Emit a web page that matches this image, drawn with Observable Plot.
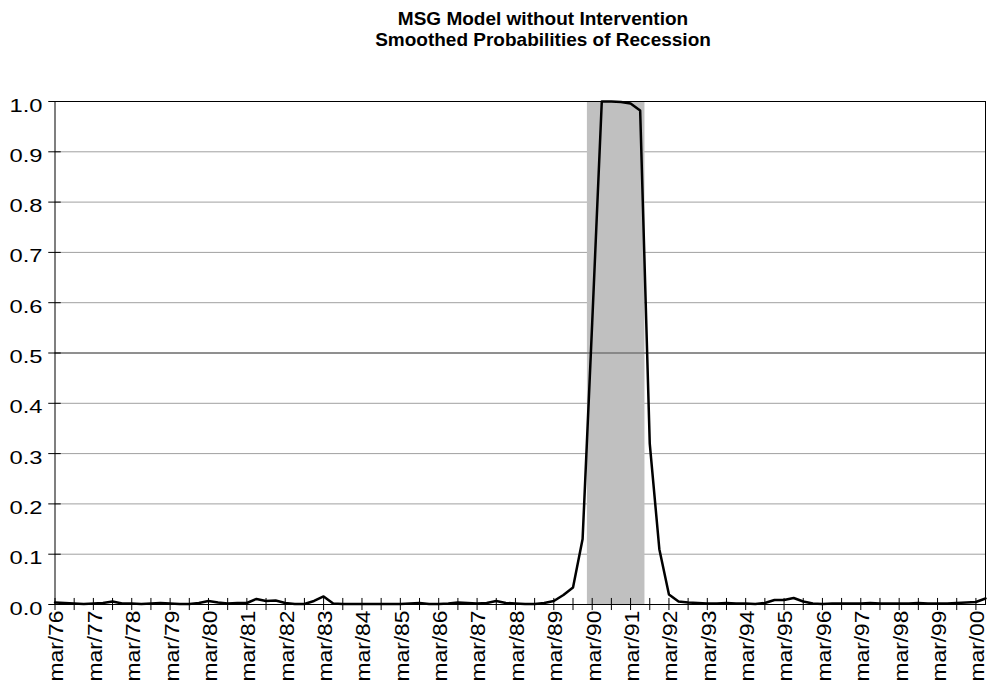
<!DOCTYPE html>
<html><head><meta charset="utf-8">
<script src="https://cdn.jsdelivr.net/npm/d3@7"></script>
<script src="https://cdn.jsdelivr.net/npm/@observablehq/plot@0.6"></script>
<style>
body{margin:0;background:#fff;}
#wrap{position:relative;width:989px;height:686px;overflow:hidden;}
#chart{position:absolute;left:0;top:0;}
#title{position:absolute;left:0;top:8px;width:989px;padding-left:97px;box-sizing:border-box;text-align:center;font:bold 19px/21px "Liberation Sans",Arial,sans-serif;color:#000;}
</style></head><body>
<div id="wrap"><div id="chart"></div><div id="title">MSG Model without Intervention<br>Smoothed Probabilities of Recession</div></div>
<script>
// Quarterly smoothed probabilities of recession, mar/76 .. jun/00
const firstYear = 1976;
const quarterNames = ["mar", "jun", "sep", "dec"];
const probability = [
  0.004, 0.003, 0.002, 0.001,  // 1976
  0.002, 0.003, 0.006, 0.002,  // 1977
  0.002, 0.001, 0.002, 0.003,  // 1978
  0.002, 0.001, 0.001, 0.003,  // 1979
  0.007, 0.004, 0.002, 0.003,  // 1980
  0.003, 0.011, 0.007, 0.008,  // 1981
  0.003, 0.001, 0.001, 0.007,  // 1982
  0.016, 0.002, 0.001, 0.001,  // 1983
  0.001, 0.001, 0.001, 0.001,  // 1984
  0.001, 0.002, 0.003, 0.001,  // 1985
  0.001, 0.002, 0.004, 0.003,  // 1986
  0.002, 0.003, 0.007, 0.003,  // 1987
  0.002, 0.001, 0.001, 0.003,  // 1988
  0.007, 0.019, 0.034, 0.13,   // 1989
  0.56, 1.0, 1.0, 0.999,       // 1990
  0.996, 0.982, 0.32, 0.11,    // 1991
  0.02, 0.006, 0.004, 0.003,   // 1992
  0.002, 0.002, 0.003, 0.002,  // 1993
  0.002, 0.001, 0.003, 0.009,  // 1994
  0.009, 0.013, 0.006, 0.002,  // 1995
  0.001, 0.002, 0.002, 0.002,  // 1996
  0.002, 0.003, 0.002, 0.002,  // 1997
  0.002, 0.002, 0.003, 0.002,  // 1998
  0.002, 0.002, 0.003, 0.004,  // 1999
  0.005, 0.012                 // 2000
];
const yTicks = [0, 0.1, 0.2, 0.3, 0.4, 0.5, 0.6, 0.7, 0.8, 0.9, 1.0];
const threshold = [0.5];
const recession = [{from: "mar/90", to: "jun/91"}];

const n = probability.length;
const quarters = d3.range(n).map(i =>
  quarterNames[i % 4] + "/" + String((firstYear + Math.floor(i / 4)) % 100).padStart(2, "0"));
const data = quarters.map((q, i) => ({i, q, p: probability[i]}));
const labelIdx = d3.range(0, n, 4);
const tickIdx = d3.range(0, n, 2);
const rec = recession.map(r => ({x1: quarters.indexOf(r.from) - 0.5, x2: quarters.indexOf(r.to) + 0.5}));

const chart = Plot.plot({
  width: 989, height: 686,
  marginTop: 101, marginBottom: 82, marginLeft: 54.5, marginRight: 4,
  x: {domain: [0, n - 1]},
  y: {domain: [0, 1]},
  style: {fontFamily: "'Liberation Sans', Arial, sans-serif", background: "white", color: "black"},
  marks: [
    Plot.ruleY(yTicks, {stroke: "#a0a0a0", strokeWidth: 1}),
    Plot.rect(rec, {x1: "x1", x2: "x2", y1: 0, y2: 1, fill: "#c0c0c0"}),
    Plot.ruleY(threshold, {stroke: "#505050", strokeWidth: 1}),
    Plot.frame({stroke: "black"}),
    Plot.ruleY(yTicks, {x1: -0.65, x2: 0.65, stroke: "black"}),
    Plot.ruleX(tickIdx, {y1: -0.012, y2: 0.012, stroke: "black"}),
    Plot.axisY({ticks: yTicks, tickFormat: d3.format(".1f"), tickSize: 0, tickPadding: 12.5, fontSize: 19, dy: 4, label: null}),
    Plot.axisX({ticks: labelIdx, tickFormat: i => quarters[i], tickRotate: -90, tickSize: 0, tickPadding: 6, fontSize: 20, dx: 2, label: null}),
    Plot.line(data, {x: "i", y: "p", stroke: "black", strokeWidth: 2.5})
  ]
});
document.getElementById("chart").appendChild(chart);
d3.select(chart).selectAll('g[aria-label="y-axis tick label"] text')
  .attr("textLength", 33).attr("lengthAdjust", "spacingAndGlyphs");
d3.select(chart).selectAll('g[aria-label="x-axis tick label"] text')
  .attr("textLength", 71).attr("lengthAdjust", "spacingAndGlyphs");
</script>
</body></html>
